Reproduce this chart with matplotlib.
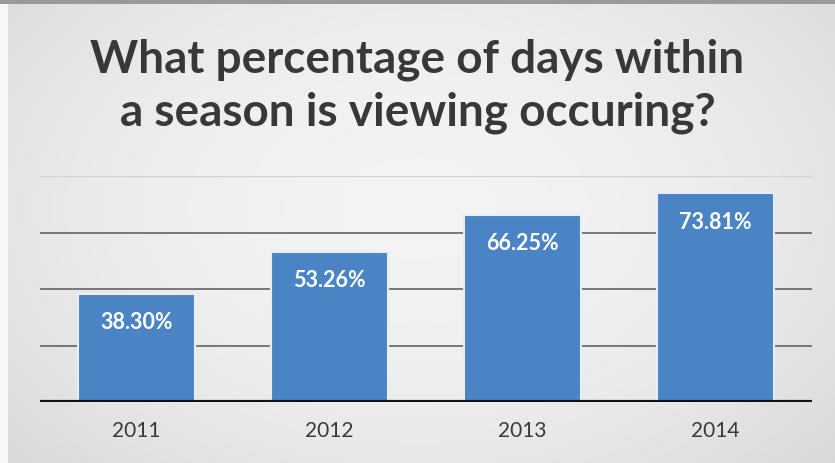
import numpy as np
import matplotlib.pyplot as plt

years = ["2011", "2012", "2013", "2014"]
pct = [38.30, 53.26, 66.25, 73.81]
value_labels = ["38.30%", "53.26%", "66.25%", "73.81%"]
grid_values = [20, 40, 60]

W, H = 835, 463
fig = plt.figure(figsize=(W / 100, H / 100), dpi=100)

# soft gray backdrop, lighter toward the middle
bg = fig.add_axes([0, 0, 1, 1], zorder=0)
yy, xx = np.mgrid[0:H, 0:W]
d = np.sqrt(((xx - W * 0.5) / (W * 0.62)) ** 2 + ((yy - H * 0.45) / (H * 0.75)) ** 2)
shade = 0.955 - 0.09 * np.clip(d, 0, 1.3) ** 2
img = np.dstack([shade, shade, shade])
img[:, :8] = 0.97
img[:4, :] = 0.6
bg.imshow(img, aspect="auto", extent=[0, W, H, 0], interpolation="bilinear")
bg.set_xlim(0, W)
bg.set_ylim(H, 0)
bg.axis("off")

title_font = dict(ha="center", va="center", fontsize=33, fontweight="bold",
                  color="#383838", family=["Lato", "DejaVu Sans"])
fig.text(0.5, 1 - 60 / H, "What percentage of days within", **title_font)
fig.text(0.5, 1 - 113 / H, "a season is viewing occuring?", **title_font)

# plot area: x 40..812 px, y 176 (80%) .. 402 (0%)
x0, x1 = 40, 812
ytop, ybot = 176, 402
ax = fig.add_axes([x0 / W, 1 - ybot / H, (x1 - x0) / W, (ybot - ytop) / H], zorder=1)
ax.patch.set_alpha(0)
ax.set_xlim(-0.5, len(years) - 0.5)
ax.set_ylim(0, 80)

for g in grid_values:
    ax.axhline(g, color="#6e6e6e", lw=1.3, zorder=1)
ax.axhline(80, color="#d4d4d4", lw=1.0, zorder=1)

xpos = np.arange(len(years))
ax.bar(xpos, pct, width=0.61, color="#4a84c4", edgecolor="#e9eef5", linewidth=1.5, zorder=2)
ax.axhline(0, color="#111111", lw=3, zorder=3)

for x, v, lab in zip(xpos, pct, value_labels):
    ax.text(x, v - 10.3, lab, ha="center", va="center", color="white",
            fontsize=15.5, fontweight="bold", family=["Lato", "DejaVu Sans"], zorder=4)

ax.set_xticks(xpos)
ax.set_xticklabels(years, fontsize=15, color="#3a3a3a", family=["Lato", "DejaVu Sans"])
ax.tick_params(axis="x", length=0, pad=14)
ax.set_yticks([])
for s in ax.spines.values():
    s.set_visible(False)

fig.savefig("out.png", dpi=100)
